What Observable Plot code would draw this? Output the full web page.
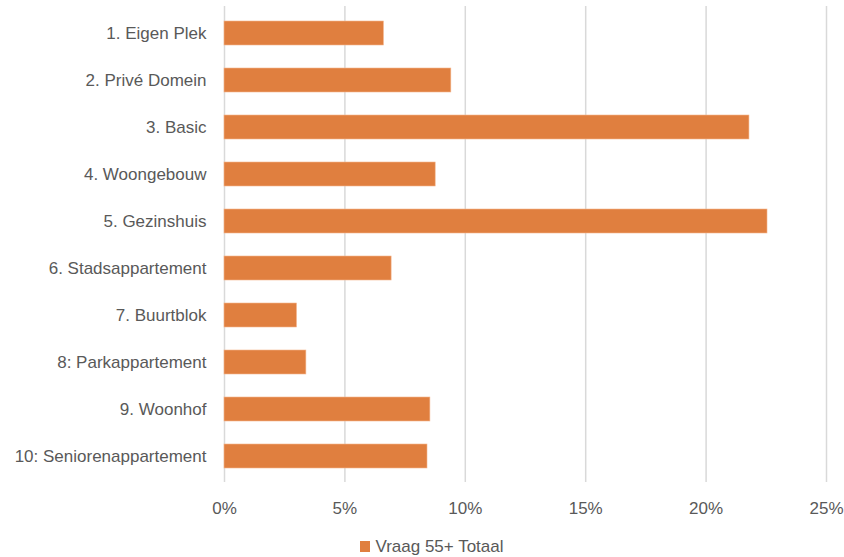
<!DOCTYPE html>
<html>
<head>
<meta charset="utf-8">
<script src="https://cdn.jsdelivr.net/npm/d3@7"></script>
<script src="https://cdn.jsdelivr.net/npm/@observablehq/plot@0.6"></script>
<style>
  body { margin: 0; background: #fff; font-family: "Liberation Sans", sans-serif; }
  #chart { width: 844px; }
  .legend { display: flex; justify-content: center; align-items: center; height: 29px; font-size: 17px; color: #595959; margin-left: 20px; padding-top: 8px; }
  .legend .sw { width: 10px; height: 11px; background: #e07f3f; margin-right: 5px; }
</style>
</head>
<body>
<div id="chart"></div>
<script>
const categories = [
  "1. Eigen Plek",
  "2. Privé Domein",
  "3. Basic",
  "4. Woongebouw",
  "5. Gezinshuis",
  "6. Stadsappartement",
  "7. Buurtblok",
  "8: Parkappartement",
  "9. Woonhof",
  "10: Seniorenappartement"
];
const values = [0.0662, 0.0942, 0.2180, 0.0877, 0.2255, 0.0694, 0.0301, 0.0340, 0.0855, 0.0843];
const xTicks = [0, 0.05, 0.10, 0.15, 0.20, 0.25];
const seriesName = "Vraag 55+ Totaal";

const data = categories.map((c, i) => ({category: c, value: values[i]}));

const chart = Plot.plot({
  width: 844,
  height: 524,
  marginLeft: 224,
  marginRight: 18,
  marginTop: 6,
  marginBottom: 42,
  style: {fontFamily: "Liberation Sans, sans-serif", fontSize: "17px", color: "#595959", background: "#fff"},
  x: {domain: [0, 0.25], ticks: xTicks, tickFormat: d => Math.round(d * 100) + "%", tickSize: 0, tickPadding: 19, label: null},
  y: {domain: categories, paddingInner: 0.5, paddingOuter: 0.25, tickSize: 0, tickPadding: 18, label: null},
  marks: [
    Plot.ruleX(xTicks, {stroke: "#d9d9d9", strokeWidth: 1.5}),
    Plot.barX(data, {x: "value", y: "category", fill: "#e07f3f", stroke: "#f3b58c", strokeWidth: 0.6})
  ]
});
document.getElementById("chart").appendChild(chart);

const legend = document.createElement("div");
legend.className = "legend";
legend.innerHTML = `<span class="sw"></span><span>${seriesName}</span>`;
document.getElementById("chart").appendChild(legend);
</script>
</body>
</html>
